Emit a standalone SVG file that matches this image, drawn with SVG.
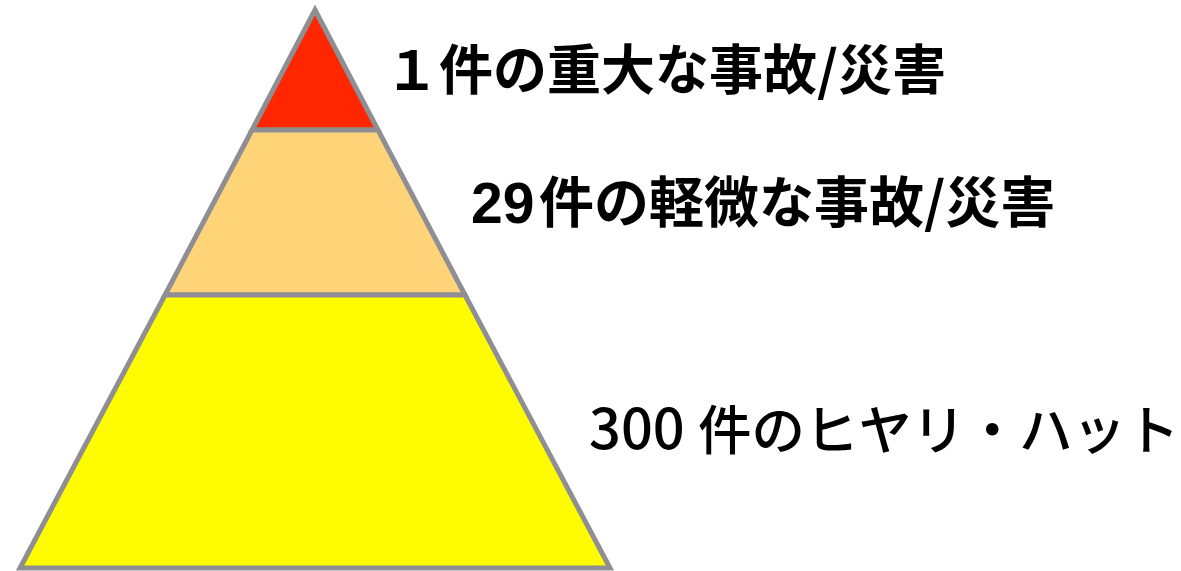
<svg xmlns="http://www.w3.org/2000/svg" width="1181" height="571" viewBox="0 0 1181 571">
<style>
.band{stroke:#8e8e93;stroke-width:5;stroke-linejoin:miter}
.lbl{font-family:"Noto Sans CJK JP","Noto Sans",sans-serif;fill:#000}
.num{font-family:"Liberation Sans",Arial,sans-serif}
</style>
<rect width="1181" height="571" fill="#fff"/>
<g id="top">
<polygon class="band" points="315,10 252,130 378,130" fill="#ff2600"/>
</g>
<g id="middle">
<polygon class="band" points="252,130 378,130 465,295 165,295" fill="#ffd479"/>
</g>
<g id="bottom">
<polygon class="band" points="165,295 465,295 610,568 20,568" fill="#fffc00"/>
</g>
<g id="labels">
<text class="lbl" x="385" y="90" font-size="54" font-weight="bold">１件の重大な事故/災害</text>
<text class="lbl" y="222" font-size="55" font-weight="bold"><tspan class="num" x="471" y="223" font-size="57">29</tspan><tspan x="539" y="222">件の軽微な事故/災害</tspan></text>
<text class="lbl" y="450" font-size="53.5" font-weight="500"><tspan x="589" y="449" font-size="56">300</tspan><tspan x="698" y="450">件のヒヤリ・ハット</tspan></text>
</g>
</svg>
